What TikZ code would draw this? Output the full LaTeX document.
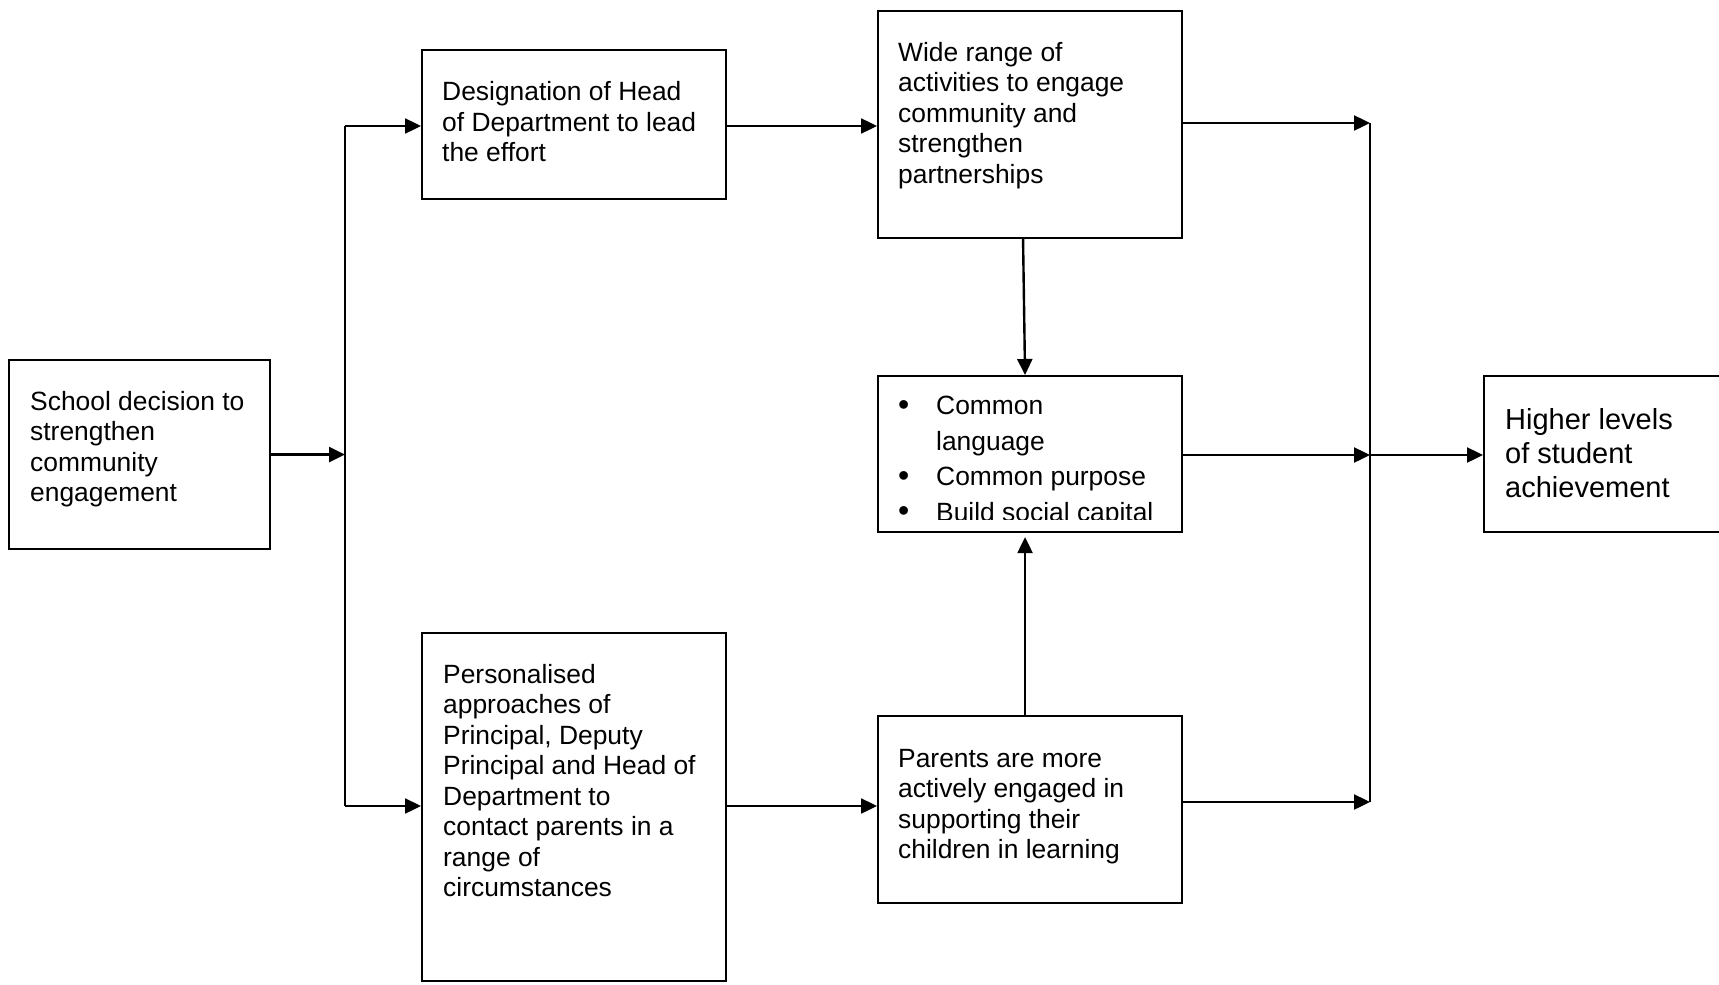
\documentclass[tikz,border=0pt]{standalone}
\usepackage{fontspec}
\setmainfont{Liberation Sans}
\usetikzlibrary{arrows.meta}
\begin{document}
\begin{tikzpicture}[x=1pt,y=-1pt,
  box/.style={draw, line width=2.1pt, inner sep=0pt, anchor=north west},
  txt/.style={anchor=north west, inner sep=0pt, align=left, font=\fontsize{26.4}{30.5}\selectfont},
  arr/.style={line width=2.4pt, -{Triangle[length=16pt,width=15pt]}},
  ln/.style={line width=2.2pt},
  bul/.style={}]
\clip (0,0) rectangle (1719,985);
\fill[white] (0,0) rectangle (1719,985);
% boxes
\node[box, minimum width=261pt, minimum height=189pt] (A) at (8,359) {};
\node[box, minimum width=304pt, minimum height=149pt] (B) at (421,49) {};
\node[box, minimum width=304pt, minimum height=227pt] (C) at (877,10) {};
\node[box, minimum width=304pt, minimum height=156pt] (D) at (877,375) {};
\node[box, minimum width=304pt, minimum height=348pt] (E) at (421,632) {};
\node[box, minimum width=304pt, minimum height=187pt] (F) at (877,715) {};
\node[box, minimum width=260pt, minimum height=156pt] (G) at (1483,375) {};
% texts
\node[txt] (At) at (30,388.65) {\strut School decision to\\strengthen\\community\\engagement};
\node[txt] (Bt) at (442,79.35) {\strut Designation of Head\\of Department to lead\\the effort};
\node[txt] (Ct) at (898,39.65) {\strut Wide range of\\activities to engage\\community and\\strengthen\\partnerships};
\node[txt] (Et) at (443,661.65) {\strut Personalised\\approaches of\\Principal, Deputy\\Principal and Head of\\Department to\\contact parents in a\\range of\\circumstances};
\node[txt] (Ft) at (898,745.65) {\strut Parents are more\\actively engaged in\\supporting their\\children in learning};
\node[txt, font=\fontsize{29}{34}\selectfont] (Gt) at (1505,405.2) {\strut Higher levels\\of student\\achievement};
\begin{scope}
\clip (878,376) rectangle (1180,519);
\node[txt, font=\fontsize{26.4}{35.5}\selectfont] (Dt) at (898,389.65)
  {\strut\makebox[38pt][l]{\raisebox{-0.5pt}{\fontsize{32}{32}\selectfont •}}Common\\\hspace*{38pt}language\\\makebox[38pt][l]{\raisebox{-0.5pt}{\fontsize{32}{32}\selectfont •}}Common purpose\\\makebox[38pt][l]{\raisebox{-0.5pt}{\fontsize{32}{32}\selectfont •}}Build social capital};
\end{scope}
% bus coordinates
\coordinate (L1) at (345,126);
\coordinate (L2) at (345,806);
\coordinate (R1) at (1370,123);
\coordinate (Rm) at (1370,455);
\coordinate (R2) at (1370,802);
% connectors
\draw[ln] (L1) -- (L2);
\draw[arr] (A) -- (A -| L1);
\draw[arr] (L1) -- (B.west |- L1);
\draw[arr] (L2) -- (E.west |- L2);
\draw[arr] (B.east |- L1) -- (C.west |- L1);
\draw[arr] (E.east |- L2) -- (F.west |- L2);
\draw[arr] (C.east |- R1) -- (R1);
\draw[arr] (D.east |- Rm) -- (Rm);
\draw[arr] (F.east |- R2) -- (R2);
\draw[ln] (R1) -- (R2);
\draw[arr] (Rm) -- (G.west |- Rm);
\draw[arr] ([xshift=-7pt]C.south) -- ([xshift=-5pt]D.north);
\draw[arr, shorten >=4pt] ([xshift=-5pt]F.north) -- ([xshift=-5pt]D.south);
\end{tikzpicture}
\end{document}
